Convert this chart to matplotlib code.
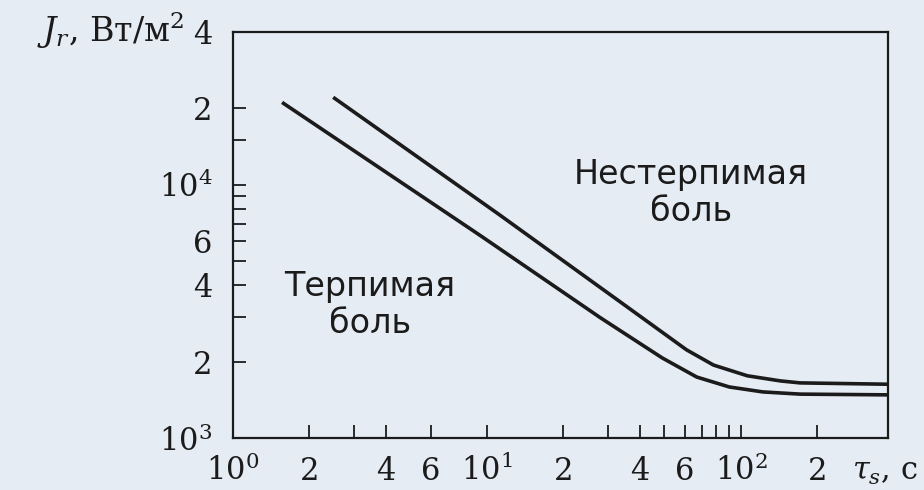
import matplotlib
matplotlib.use("Agg")
import matplotlib.pyplot as plt
from matplotlib.ticker import FixedLocator, NullFormatter

# boundary curves (tau_s in s, J_r in W/m^2)
lower_tau = [1.56, 9.4, 28, 49, 67, 90, 122, 171, 380]
lower_J = [21100, 6300, 2980, 2070, 1740, 1590, 1520, 1490, 1480]
upper_tau = [2.48, 11.2, 33.4, 61, 78, 106, 143, 171, 380]
upper_J = [22100, 7600, 3450, 2230, 1940, 1760, 1680, 1650, 1630]

x_major = [1, 2, 4, 6, 10, 20, 40, 60, 100, 200]
x_labels = ["$10^0$", "2", "4", "6", "$10^1$", "2", "4", "6", "$10^2$", "2"]
x_minor = [3, 30, 50, 70, 80, 90]
y_major = [1e3, 2e3, 4e3, 6e3, 1e4, 2e4, 4e4]
y_labels = ["$10^3$", "2", "4", "6", "$10^4$", "2", "4"]
y_minor = [3e3, 5e3, 7e3, 8e3, 9e3, 1.5e4]

bg = "#e6ecf4"
ink = "#1b1b1b"

plt.rcParams["font.family"] = ["DejaVu Serif"]
plt.rcParams["mathtext.fontset"] = "dejavuserif"

fig = plt.figure(figsize=(9.24, 4.9), dpi=100, facecolor=bg)
ax = fig.add_axes([0.2522, 0.1061, 0.709, 0.8286])
ax.set_facecolor("none")

ax.plot(lower_tau, lower_J, color=ink, lw=2.6, solid_capstyle="butt")
ax.plot(upper_tau, upper_J, color=ink, lw=2.6, solid_capstyle="butt")

ax.set_xscale("log")
ax.set_yscale("log")
ax.set_xlim(1, 380)
ax.set_ylim(1e3, 4e4)

ax.xaxis.set_major_locator(FixedLocator(x_major))
ax.set_xticklabels(x_labels)
ax.xaxis.set_minor_locator(FixedLocator(x_minor))
ax.xaxis.set_minor_formatter(NullFormatter())
ax.yaxis.set_major_locator(FixedLocator(y_major))
ax.set_yticklabels(y_labels)
ax.yaxis.set_minor_locator(FixedLocator(y_minor))
ax.yaxis.set_minor_formatter(NullFormatter())

ax.tick_params(which="both", direction="in", length=9.5, width=1.3, color=ink,
               labelcolor=ink, labelsize=22)
ax.tick_params(axis="x", pad=30)
ax.tick_params(axis="y", pad=15)
for lab in ax.get_xticklabels():
    lab.set_va("baseline")

for s in ax.spines.values():
    s.set_linewidth(1.6)
    s.set_color(ink)

ax.text(0.945, -0.1034, r"$\tau_s$, с", transform=ax.transAxes,
        ha="left", va="baseline", fontsize=22, color=ink)
ax.text(-0.075, 0.975, r"$J_r$, Вт/м$^2$", transform=ax.transAxes,
        ha="right", va="baseline", fontsize=24, color=ink)

ax.text(3.46, 3360, "Терпимая\nболь", ha="center", va="center",
        fontsize=24, family="DejaVu Sans", linespacing=1.15, color=ink)
ax.text(63.6, 9300, "Нестерпимая\nболь", ha="center", va="center",
        fontsize=24, family="DejaVu Sans", linespacing=1.15, color=ink)

fig.savefig("out.png", dpi=100, facecolor=bg)
